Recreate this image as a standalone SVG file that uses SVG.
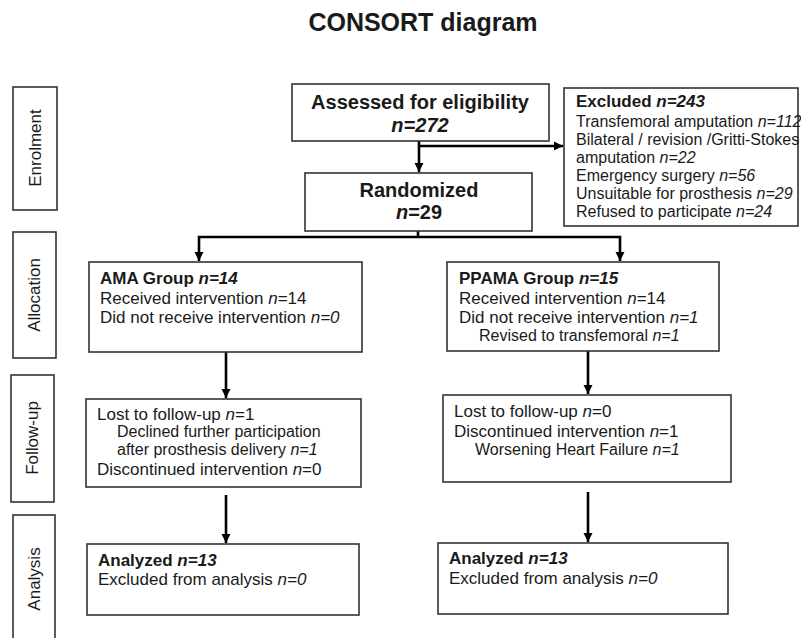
<svg xmlns="http://www.w3.org/2000/svg" width="801" height="638" viewBox="0 0 801 638">
<defs>
<marker id="ah" markerUnits="userSpaceOnUse" markerWidth="10" markerHeight="10" refX="9" refY="5" orient="auto">
<path d="M0,0.5 L9,5 L0,9.5 z" fill="#000"/>
</marker>
<style>
text{font-family:"Liberation Sans",Arial,sans-serif;fill:#1a1a1a}
.box{fill:#fff;stroke:#333;stroke-width:1.6}
.t17{font-size:17px}
.t16{font-size:16px}
.b{font-weight:bold}
.i{font-style:italic}
.big{font-size:20px;font-weight:bold}
.con{fill:none;stroke:#000;stroke-width:2.6}
</style>
</defs>
<rect width="801" height="638" fill="#fff"/>
<text x="423" y="31" text-anchor="middle" style="font-size:25px;font-weight:bold">CONSORT diagram</text>

<g id="stage-enrolment">
<rect class="box" x="13" y="87" width="44" height="123"/>
<text class="t17" transform="translate(41,148) rotate(-90)" text-anchor="middle">Enrolment</text>
</g>
<g id="stage-allocation">
<rect class="box" x="13" y="232" width="43" height="126"/>
<text class="t17" transform="translate(40,295) rotate(-90)" text-anchor="middle">Allocation</text>
</g>
<g id="stage-followup">
<rect class="box" x="11" y="375" width="43" height="127"/>
<text class="t17" transform="translate(38,438) rotate(-90)" text-anchor="middle">Follow-up</text>
</g>
<g id="stage-analysis">
<rect class="box" x="13" y="515" width="42" height="135"/>
<text class="t17" transform="translate(40,579) rotate(-90)" text-anchor="middle">Analysis</text>
</g>

<g id="connectors">
<path class="con" d="M419,141 V172" marker-end="url(#ah)"/>
<path class="con" d="M419,146 H563" marker-end="url(#ah)"/>
<path class="con" d="M418,231 V237"/>
<path class="con" d="M418,237 H199 V261" marker-end="url(#ah)"/>
<path class="con" d="M418,237 H620 V261" marker-end="url(#ah)"/>
<path class="con" d="M226,352 V398" marker-end="url(#ah)"/>
<path class="con" d="M226,495 V543" marker-end="url(#ah)"/>
<path class="con" d="M588,351 V394" marker-end="url(#ah)"/>
<path class="con" d="M588,492 V542" marker-end="url(#ah)"/>
</g>

<g id="assessed">
<rect class="box" x="292" y="84" width="257" height="57"/>
<text class="big" x="420" y="109" text-anchor="middle">Assessed for eligibility</text>
<text class="big i" x="420" y="132" text-anchor="middle">n=272</text>
</g>

<g id="excluded">
<rect class="box" x="564" y="88" width="234" height="138"/>
<text class="t16" x="576" y="107"><tspan class="b" style="font-size:17px">Excluded <tspan class="i">n=243</tspan></tspan></text>
<text class="t16" x="576" y="127">Transfemoral amputation <tspan class="i">n=112</tspan></text>
<text class="t16" x="576" y="145">Bilateral / revision /Gritti-Stokes</text>
<text class="t16" x="576" y="163">amputation <tspan class="i">n=22</tspan></text>
<text class="t16" x="576" y="181">Emergency surgery <tspan class="i">n=56</tspan></text>
<text class="t16" x="576" y="199">Unsuitable for prosthesis <tspan class="i">n=29</tspan></text>
<text class="t16" x="576" y="217">Refused to participate <tspan class="i">n=24</tspan></text>
</g>

<g id="randomized">
<rect class="box" x="305" y="173" width="227" height="58"/>
<text class="big" x="419" y="197" text-anchor="middle">Randomized</text>
<text class="big" x="419" y="219" text-anchor="middle"><tspan class="i">n</tspan>=29</text>
</g>

<g id="ama-group">
<rect class="box" x="89" y="262" width="273" height="90"/>
<text class="t17 b" x="100" y="284">AMA Group <tspan class="i">n=14</tspan></text>
<text class="t17" x="100" y="304">Received intervention <tspan class="i">n</tspan>=14</text>
<text class="t17" x="100" y="323">Did not receive intervention <tspan class="i">n=0</tspan></text>
</g>

<g id="ppama-group">
<rect class="box" x="447" y="262" width="272" height="89"/>
<text class="t17 b" x="459" y="284">PPAMA Group <tspan class="i">n=15</tspan></text>
<text class="t17" x="459" y="304">Received intervention <tspan class="i">n</tspan>=14</text>
<text class="t17" x="459" y="323">Did not receive intervention <tspan class="i">n=1</tspan></text>
<text class="t16" x="479" y="341">Revised to transfemoral <tspan class="i">n=1</tspan></text>
</g>

<g id="ama-followup">
<rect class="box" x="86" y="399" width="275" height="88"/>
<text class="t17" x="97" y="420">Lost to follow-up <tspan class="i">n</tspan>=1</text>
<text class="t16" x="117" y="437">Declined further participation</text>
<text class="t16" x="117" y="455">after prosthesis delivery <tspan class="i">n=1</tspan></text>
<text class="t17" x="97" y="475">Discontinued intervention <tspan class="i">n</tspan>=0</text>
</g>

<g id="ppama-followup">
<rect class="box" x="443" y="395" width="288" height="87"/>
<text class="t17" x="454" y="417">Lost to follow-up <tspan class="i">n</tspan>=0</text>
<text class="t17" x="454" y="437">Discontinued intervention <tspan class="i">n</tspan>=1</text>
<text class="t16" x="475" y="455">Worsening Heart Failure <tspan class="i">n=1</tspan></text>
</g>

<g id="ama-analysis">
<rect class="box" x="87" y="544" width="272" height="71"/>
<text class="t17 b" x="98" y="566">Analyzed <tspan class="i">n=13</tspan></text>
<text class="t17" x="98" y="585">Excluded from analysis <tspan class="i">n=0</tspan></text>
</g>

<g id="ppama-analysis">
<rect class="box" x="438" y="543" width="290" height="71"/>
<text class="t17 b" x="449" y="564">Analyzed <tspan class="i">n=13</tspan></text>
<text class="t17" x="449" y="584">Excluded from analysis <tspan class="i">n=0</tspan></text>
</g>
</svg>
